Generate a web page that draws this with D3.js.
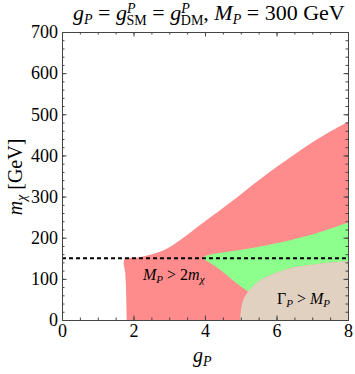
<!DOCTYPE html>
<html>
<head>
<meta charset="utf-8">
<script src="https://cdn.jsdelivr.net/npm/d3@7"></script>
<style>
  body { margin: 0; background: #fff; }
  svg text { font-family: "Liberation Serif", "Times New Roman", Times, "DejaVu Serif", serif; }
</style>
</head>
<body>
<div id="my_dataviz"></div>
<script>
// boundaries, as [g_P, m_chi] pairs
const redLeft = [[1.81, 0], [1.80, 40], [1.79, 80], [1.77, 115], [1.72, 138], [1.75, 150]];
const redUpper = [[1.75, 151], [2.0, 151], [2.3, 155], [2.74, 166], [3.0, 177], [3.3, 194], [3.6, 213],
  [3.86, 231], [4.42, 267], [4.98, 304], [5.63, 348], [6.3, 390], [7.03, 433], [7.5, 458], [8.0, 482]];
const greenUpper = [[3.9, 150], [4.05, 157], [4.4, 163], [4.98, 170], [5.5, 178], [6.38, 194], [7.2, 213], [8.0, 237]];
const greenDiag = [[3.9, 150], [4.1, 141], [4.42, 122], [4.89, 89], [5.21, 69]];
const beigeEdge = [[4.98, 0], [5.0, 20], [5.07, 49], [5.21, 69], [5.4, 87], [5.63, 101], [6.0, 115],
  [6.38, 126], [6.9, 133], [7.31, 138], [8.0, 143]];
const thresholdMass = 150;   // M_P / 2

const xMajor = [0, 2, 4, 6, 8];
const yMajor = [0, 100, 200, 300, 400, 500, 600, 700];

const margin = { top: 32, right: 7, bottom: 54, left: 62 },
  width = 355 - margin.left - margin.right,
  height = 374 - margin.top - margin.bottom;

const svgRoot = d3.select("#my_dataviz").append("svg")
  .attr("width", 355).attr("height", 374);
const svg = svgRoot.append("g")
  .attr("transform", "translate(" + margin.left + "," + margin.top + ")");

svgRoot.append("defs").append("clipPath").attr("id", "plotclip")
  .append("rect").attr("width", width).attr("height", height);

const x = d3.scaleLinear().domain([0, 8]).range([0, width]);
const y = d3.scaleLinear().domain([0, 700]).range([height, 0]);
const straight = d3.line().x(d => x(d[0])).y(d => y(d[1]));
const smooth = d3.line().x(d => x(d[0])).y(d => y(d[1])).curve(d3.curveCatmullRom.alpha(0.5));

const regions = svg.append("g").attr("clip-path", "url(#plotclip)");

// joins smooth boundaries with straight edges into one closed path
function regionPath(pieces) {
  return pieces.map((p, i) => {
    const d = (p.smooth ? smooth : straight)(p.pts);
    return i === 0 ? d : "L" + d.slice(1);
  }).join("") + "Z";
}

// red region
regions.append("path").attr("fill", "#ff8c8c").attr("d", regionPath([
  { pts: redLeft, smooth: false },
  { pts: redUpper, smooth: true },
  { pts: [[8, 482], [8, 0]], smooth: false }
]));

// green region
const junction = greenDiag[greenDiag.length - 1][0];
const beigeTop = beigeEdge.filter(d => d[0] >= junction).reverse();
regions.append("path").attr("fill", "#8cff8c").attr("d", regionPath([
  { pts: greenUpper, smooth: true },
  { pts: [[8, 237], [8, 143]], smooth: false },
  { pts: beigeTop, smooth: true },
  { pts: greenDiag.slice().reverse(), smooth: true }
]));

// beige region
regions.append("path").attr("fill", "#e0d1c1").attr("d", regionPath([
  { pts: beigeEdge, smooth: true },
  { pts: [[8, 143], [8, 0]], smooth: false }
]));

// dashed threshold line
svg.append("line")
  .attr("x1", x(0)).attr("x2", x(8))
  .attr("y1", y(thresholdMass)).attr("y2", y(thresholdMass))
  .attr("stroke", "#000").attr("stroke-width", 2)
  .attr("stroke-dasharray", "4,3");

// axes with inward ticks
const axisColor = "#444";
const xMinor = d3.range(0, 8.01, 0.5);
const yMinor = d3.range(0, 701, 20);
function styleAxis(g) {
  g.attr("font-family", null);
  g.select(".domain").attr("stroke", axisColor);
  g.selectAll(".tick line").attr("stroke", axisColor);
  g.selectAll("text").attr("fill", "#000").attr("font-size", 18);
}
const axes = [
  [d3.axisBottom, x, xMinor, xMajor, "translate(0," + height + ")", true],
  [d3.axisTop, x, xMinor, xMajor, "translate(0,0)", false],
  [d3.axisLeft, y, yMinor, yMajor, "translate(0,0)", true],
  [d3.axisRight, y, yMinor, yMajor, "translate(" + width + ",0)", false]
];
axes.forEach(([fn, sc, minor, major, tr, labels]) => {
  svg.append("g").attr("transform", tr)
    .call(fn(sc).tickValues(minor).tickSize(-2.5).tickFormat(""))
    .call(styleAxis);
  svg.append("g").attr("transform", tr)
    .call(fn(sc).tickValues(major).tickSize(-4.5).tickPadding(labels ? 4 : 0)
      .tickFormat(labels ? d3.format("d") : ""))
    .call(styleAxis);
});

// math-ish text helper: parts = [text, italic, size, shift, dx]
function mathText(sel, parts) {
  let cur = 0;
  parts.forEach(([t, it, size, shift, dx]) => {
    sel.append("tspan")
      .attr("font-style", it ? "italic" : "normal")
      .attr("font-size", size)
      .attr("dy", shift - cur)
      .attr("dx", dx || 0)
      .text(t);
    cur = shift;
  });
}

const title = svgRoot.append("text").attr("x", 73).attr("y", 20);
mathText(title, [
  ["g", 1, 22, 0], ["P", 1, 14, 4],
  [" = ", 0, 22, 0], ["g", 1, 22, 0], ["P", 1, 14, -7], ["SM", 0, 14, 5, -9],
  [" = ", 0, 22, 0], ["g", 1, 22, 0], ["P", 1, 14, -7], ["DM", 0, 14, 5, -9],
  [",  ", 0, 22, 0], ["M", 1, 22, 0], ["P", 1, 14, 4],
  [" = 300 GeV", 0, 22, 0]
]);

const xl = svgRoot.append("text").attr("x", 193).attr("y", 362);
mathText(xl, [["g", 1, 20, 0], ["P", 1, 14, 4]]);

const yl = svgRoot.append("text")
  .attr("transform", "translate(22,177) rotate(-90)")
  .attr("text-anchor", "middle");
mathText(yl, [["m", 1, 20, 0], ["χ", 1, 14, 4], ["  [GeV]", 0, 20, 0]]);

const l1 = svgRoot.append("text").attr("x", 143).attr("y", 280);
mathText(l1, [["M", 1, 16, 0], ["P", 1, 11, 3], [" > 2", 0, 16, 0], ["m", 1, 16, 0], ["χ", 1, 11, 3]]);

const l2 = svgRoot.append("text").attr("x", 277).attr("y", 304);
mathText(l2, [["Γ", 0, 16, 0], ["P", 1, 11, 3], [" > ", 0, 16, 0], ["M", 1, 16, 0], ["P", 1, 11, 3]]);
</script>
</body>
</html>
